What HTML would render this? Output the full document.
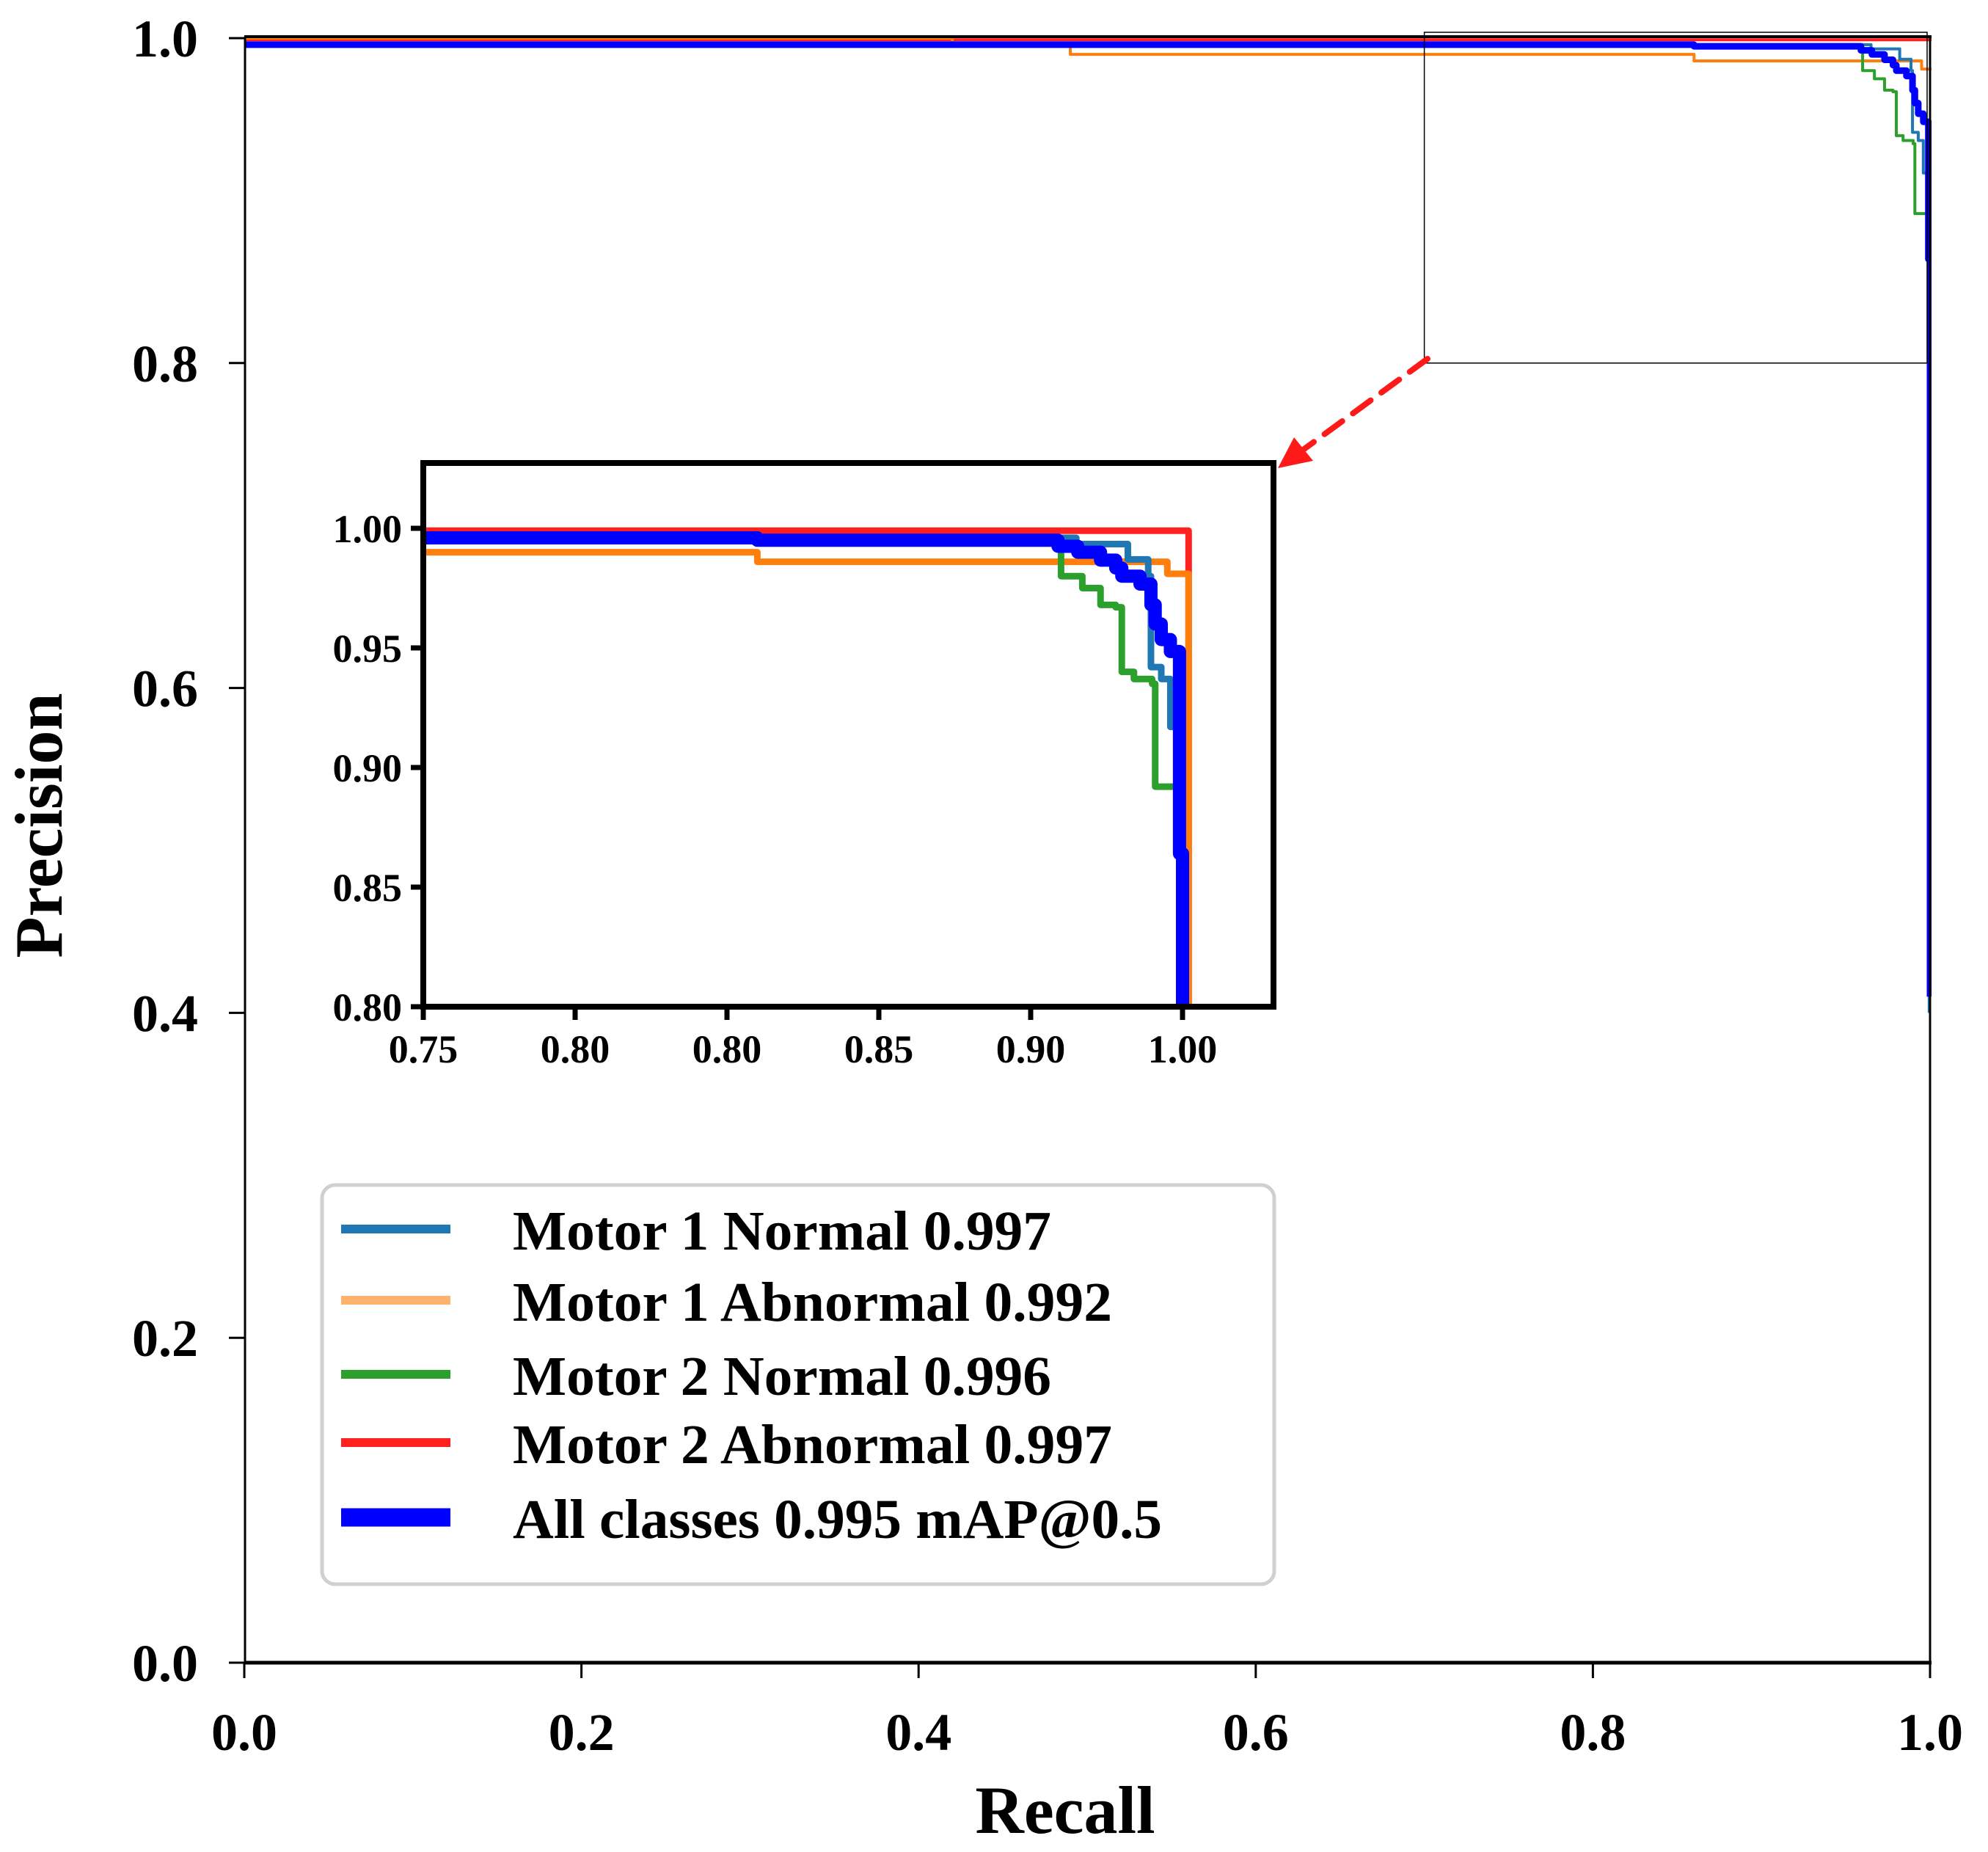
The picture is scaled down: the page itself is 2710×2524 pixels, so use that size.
<!DOCTYPE html>
<html><head><meta charset="utf-8"><style>
html,body{margin:0;padding:0;background:#fff;width:2710px;height:2524px;overflow:hidden;}
svg{display:block;}
text{font-family:"Liberation Serif",serif;font-weight:bold;fill:#000;}
</style></head><body>
<svg id="chart" width="2710" height="2524" viewBox="0 0 2710 2524" xmlns="http://www.w3.org/2000/svg">
<defs>
<clipPath id="mainClip"><rect x="333" y="40" width="2300" height="2226"/></clipPath>
<clipPath id="insetClip"><rect x="577" y="631" width="1159" height="741"/></clipPath>
</defs>
<g id="main"></g>
<g id="inset"></g>
<g id="legend"></g>
</svg>
<script>
// ---- data ----
const seriesNames = ["Motor 1 Normal 0.997","Motor 1 Abnormal 0.992","Motor 2 Normal 0.996","Motor 2 Abnormal 0.997","All classes 0.995 mAP@0.5"];
const seriesColors = ["#1f77b4","#ff7f0e","#2ca02c","#ff2020","#0000ff"];
const legendColors = ["#1f77b4","#ffb26b","#2ca02c","#ff2020","#0000ff"];
const m1nRecall = [0,0.965,0.982,0.9887,0.9896,0.993,0.996,0.9995];
const m1nPrec   = [0.996,0.9934,0.987,0.980,0.942,0.937,0.917,0.40];
const m1aRecall = [0,0.42,0.49,0.86,0.995,1.002];
const m1aPrec   = [1.0,0.996,0.990,0.986,0.981,0.34];
const m2nRecall = [0,0.960,0.967,0.973,0.978,0.980,0.984,0.990,0.991,0.999];
const m2nPrec   = [0.996,0.980,0.975,0.968,0.967,0.940,0.937,0.935,0.892,0.73];
const m2aRecall = [0,1.002];
const m2aPrec   = [0.999,0.50];
const allRecall = [0,0.86,0.959,0.9655,0.973,0.978,0.980,0.986,0.9896,0.991,0.993,0.996,0.999,1.0];
const allPrec   = [0.996,0.995,0.9925,0.990,0.9867,0.9834,0.980,0.9767,0.968,0.960,0.9535,0.9485,0.864,0.41];
const mainTicks = [0,0.2,0.4,0.6,0.8,1.0];
const mainTickLabels = ["0.0","0.2","0.4","0.6","0.8","1.0"];
const insetXTicks = [0.75,0.80,0.85,0.90,0.95,1.00];
const insetXLabels = ["0.75","0.80","0.80","0.85","0.90","1.00"];
const insetYTicks = [0.80,0.85,0.90,0.95,1.00];
const insetYLabels = ["0.80","0.85","0.90","0.95","1.00"];

const NS="http://www.w3.org/2000/svg";
function mk(tag,attrs,parent){const e=document.createElementNS(NS,tag);for(const k in attrs)e.setAttribute(k,attrs[k]);parent.appendChild(e);return e;}
const allR=[m1nRecall,m1aRecall,m2nRecall,m2aRecall,allRecall];
const allP=[m1nPrec,m1aPrec,m2nPrec,m2aPrec,allPrec];

const mx=v=>333+v*2298, my=v=>2266-v*2214;
const ix=v=>577+(v-0.75)/0.05*207, iy=v=>1372-(v-0.80)/0.05*163;

function stepPath(R,P,fx,fy){let d="M"+fx(R[0])+","+fy(P[0]);for(let i=1;i<R.length;i++){d+=" H"+fx(R[i])+" V"+fy(P[i]);}return d;}

// ---- main plot ----
const main=document.getElementById("main");
const mcurves=mk("g",{"clip-path":"url(#mainClip)"},main);
const mainOrder=[3,1,2,0,4];
for(const s of mainOrder){
  const p=mk("path",{d:stepPath(allR[s],allP[s],mx,my),fill:"none",stroke:seriesColors[s],"stroke-width":s==4?9:4,"stroke-linejoin":"round"},mcurves);
  
  
}
const zr=mk("rect",{x:mx(0.7),y:my(1.0)-8,width:mx(1.0)-mx(0.7)-4,height:my(0.8)-my(1.0)+8,fill:"none",stroke:"#000","stroke-width":1.5},main);


const sp=mk("g",{},main);


mk("line",{x1:333,y1:2266,x2:2633,y2:2266,stroke:"#000","stroke-width":5},sp);
mk("line",{x1:333,y1:50,x2:2633,y2:50,stroke:"#000","stroke-width":4},sp);
mk("line",{x1:334,y1:50,x2:334,y2:2268,stroke:"#000","stroke-width":3},sp);
mk("line",{x1:2631,y1:50,x2:2631,y2:2268,stroke:"#000","stroke-width":3},sp);
for(let i=0;i<mainTicks.length;i++){
  const v=mainTicks[i];
  mk("line",{x1:mx(v),y1:2266,x2:mx(v),y2:2287,stroke:"#000","stroke-width":3},sp);
  mk("line",{x1:312,y1:my(v),x2:334,y2:my(v),stroke:"#000","stroke-width":3},sp);
  const xl=mk("text",{x:mx(v),y:2385,"text-anchor":"middle","font-size":72},main);xl.textContent=mainTickLabels[i];
  
  
  const yl=mk("text",{x:270,y:my(v)+25,"text-anchor":"end","font-size":72},main);yl.textContent=mainTickLabels[i];
  
  
}
const xt=mk("text",{x:1452,y:2498,"text-anchor":"middle","font-size":92},main);xt.textContent="Recall";


const yt=mk("text",{x:0,y:0,"text-anchor":"middle","font-size":92,transform:"translate(84,1125) rotate(-90)"},main);yt.textContent="Precision";


const ar=mk("g",{},main);


mk("line",{x1:1946,y1:489,x2:1775,y2:614,stroke:"#ff1a1a","stroke-width":8,"stroke-dasharray":"30,18","stroke-linecap":"round"},ar);
mk("polygon",{points:"1742,638 1764,596 1790,628",fill:"#ff1a1a"},ar);

// ---- inset ----
const inset=document.getElementById("inset");
mk("rect",{x:577,y:631,width:1159,height:741,fill:"#fff"},inset);
const icurves=mk("g",{"clip-path":"url(#insetClip)"},inset);
const order=[3,1,2,0,4];
for(const s of order){
  const p=mk("path",{d:stepPath(allR[s],allP[s],ix,iy),fill:"none",stroke:seriesColors[s],"stroke-width":s==4?18:9,"stroke-linejoin":"round"},icurves);
  
  
}
const ib=mk("rect",{x:577,y:631,width:1159,height:741,fill:"none",stroke:"#000","stroke-width":8},inset);


for(let i=0;i<insetXTicks.length;i++){
  const x=ix(insetXTicks[i]);
  mk("line",{x1:x,y1:1372,x2:x,y2:1390,stroke:"#000","stroke-width":7},inset);
  const t=mk("text",{x:x,y:1448,"text-anchor":"middle","font-size":54},inset);t.textContent=insetXLabels[i];
  
  
}
for(let i=0;i<insetYTicks.length;i++){
  const y=iy(insetYTicks[i]);
  mk("line",{x1:560,y1:y,x2:577,y2:y,stroke:"#000","stroke-width":7},inset);
  const t=mk("text",{x:548,y:y+19,"text-anchor":"end","font-size":54},inset);t.textContent=insetYLabels[i];
  
  
}

// ---- legend ----
const lg=document.getElementById("legend");
mk("rect",{x:439,y:1615,width:1298,height:544,rx:18,fill:"#fff",stroke:"#d0d0d0","stroke-width":5},lg);
const rowY=[1675,1772,1873,1966,2068];
const textW=[734,817,734,817,885];
for(let i=0;i<5;i++){
  const e=mk("g",{},lg);
  
  
  mk("line",{x1:465,y1:rowY[i],x2:614,y2:rowY[i],stroke:legendColors[i],"stroke-width":i==4?25:12},e);
  const t=mk("text",{x:699,y:rowY[i]+28,"font-size":76,textLength:textW[i],lengthAdjust:"spacingAndGlyphs"},e);t.textContent=seriesNames[i];
}
</script>
</body></html>
